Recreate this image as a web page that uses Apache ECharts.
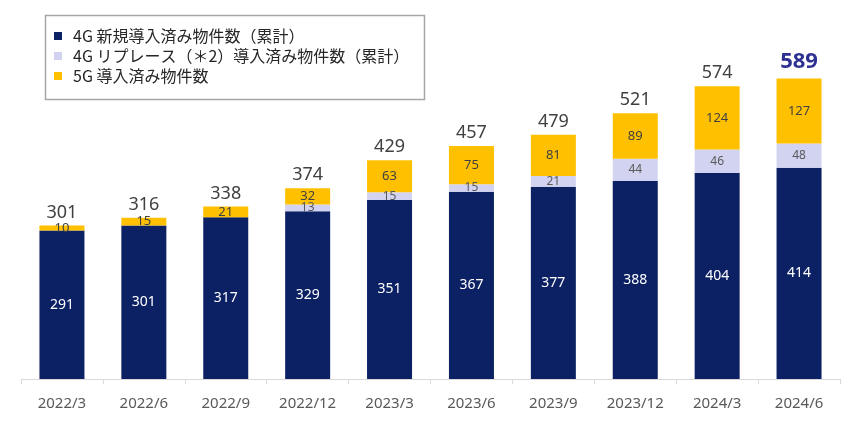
<!DOCTYPE html>
<html><head><meta charset="utf-8">
<script src="https://cdn.jsdelivr.net/npm/echarts@6/dist/echarts.min.js"></script>
<style>html,body{margin:0;padding:0;background:#fff}#c{width:860px;height:427px}</style>
</head><body><div id="c"></div>
<script>
const categories = ['2022/3','2022/6','2022/9','2022/12','2023/3','2023/6','2023/9','2023/12','2024/3','2024/6'];
const new4G = [291,301,317,329,351,367,377,388,404,414];
const replace4G = [0,0,0,13,15,15,21,44,46,48];
const units5G = [10,15,21,32,63,75,81,89,124,127];
const totals = [301,316,338,374,429,457,479,521,574,589];
const seriesNames = ['4G 新規導入済み物件数（累計）','4G リプレース（＊2）導入済み物件数（累計）','5G 導入済み物件数'];

const numFont = '"Noto Sans", "Open Sans", sans-serif';
const jpFont = '"Noto Sans CJK JP", sans-serif';
const chart = echarts.init(document.getElementById('c'));
const hideZero = p => (p.value ? p.value : '');
chart.setOption({
  animation: false,
  grid: { left: 21, right: 20, top: 73, bottom: 48 },
  graphic: [{ type: 'rect', shape: { x: 45.5, y: 15.5, width: 379, height: 84 }, style: { fill: 'none', stroke: '#a6a6a6', lineWidth: 1.5 }, z: 10 }],
  legend: {
    data: seriesNames, orient: 'vertical', left: 54, top: 26, padding: 0,
    itemWidth: 8, itemHeight: 8, itemGap: 0, icon: 'rect',
    textStyle: { fontFamily: jpFont, fontSize: 16, color: '#262626', lineHeight: 20, padding: [0,0,0,6] },
    selectedMode: false
  },
  xAxis: {
    type: 'category', data: categories,
    axisLine: { lineStyle: { color: '#d9d9d9', width: 1 } },
    axisTick: { show: true, length: 5, lineStyle: { color: '#d9d9d9' } },
    axisLabel: { color: '#595959', fontFamily: numFont, fontSize: 15, margin: 17 }
  },
  yAxis: { type: 'value', min: 0, max: 600, show: false, splitLine: { show: false } },
  series: [
    { name: seriesNames[0], type: 'bar', stack: 't', data: new4G, barWidth: 45,
      itemStyle: { color: '#0c2164' },
      label: { show: true, position: 'inside', color: '#ffffff', fontFamily: numFont, fontSize: 14 } },
    { name: seriesNames[1], type: 'bar', stack: 't', data: replace4G,
      itemStyle: { color: '#d2d3f1' },
      label: { show: true, position: 'inside', color: '#595959', fontFamily: numFont, fontSize: 12, formatter: hideZero } },
    { name: seriesNames[2], type: 'bar', stack: 't', data: units5G,
      itemStyle: { color: '#ffc000' },
      label: { show: true, position: 'inside', color: '#404040', fontFamily: numFont, fontSize: 13 } },
    { name: 'total', type: 'bar', stack: 't',
      data: totals.map((t, i) => ({
        value: 0,
        label: i === totals.length - 1
          ? { fontSize: 22, fontWeight: 'bold', color: '#2e3192', distance: 6 }
          : {}
      })),
      itemStyle: { color: 'transparent' },
      label: { show: true, position: 'top', distance: 4, color: '#404040', fontFamily: numFont, fontSize: 18,
        formatter: p => totals[p.dataIndex] } }
  ]
});
</script></body></html>
